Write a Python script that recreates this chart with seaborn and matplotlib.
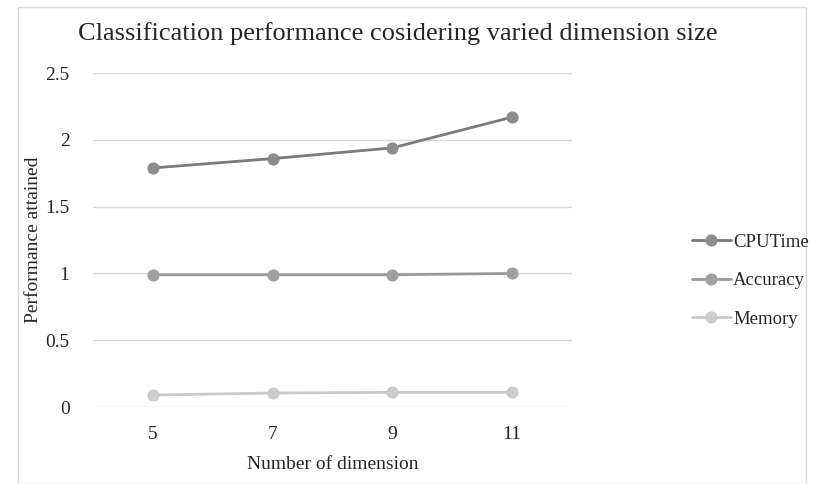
import numpy as np
import pandas as pd
import matplotlib
matplotlib.use("Agg")
import matplotlib.pyplot as plt
import seaborn as sns

dims = ["5", "7", "9", "11"]
cpu_time = [1.79, 1.86, 1.94, 2.17]
accuracy = [0.99, 0.99, 0.99, 1.00]
memory = [0.09, 0.105, 0.11, 0.11]

series = {"CPUTime": cpu_time, "Accuracy": accuracy, "Memory": memory}
colors = {"CPUTime": "#7a7a7a", "Accuracy": "#9a9a9a", "Memory": "#c9c9c9"}
mcolors = {"CPUTime": "#8c8c8c", "Accuracy": "#a0a0a0", "Memory": "#cccccc"}

df = pd.DataFrame([
    {"dim": d, "value": v, "series": name}
    for name, vals in series.items()
    for d, v in zip(dims, vals)
])

sns.set_style("white")
plt.rcParams["font.family"] = ["Liberation Serif", "DejaVu Serif"]

fig = plt.figure(figsize=(8.17, 4.84), dpi=100)
ax = fig.add_axes([0.114, 0.159, 0.586, 0.69])

for name in series:
    sub = df[df["series"] == name]
    sns.lineplot(data=sub, x="dim", y="value", ax=ax, color=colors[name],
                 lw=2, marker="o", markersize=8, markerfacecolor=mcolors[name],
                 markeredgecolor=mcolors[name], label=name, sort=False)

ax.set_ylim(0, 2.5)
ax.set_xlim(-0.5, 3.5)
ax.set_yticks([0, 0.5, 1, 1.5, 2, 2.5])
ax.set_yticklabels(["0", "0.5", "1", "1.5", "2", "2.5"])
ax.yaxis.grid(True, color="#d9d9d9", lw=1)
ax.set_axisbelow(True)
for s in ["top", "right", "left", "bottom"]:
    ax.spines[s].set_visible(False)
ax.tick_params(axis="both", length=0, labelsize=14, pad=14)
ax.tick_params(axis="y", pad=17)
ax.set_xlabel("Number of dimension", fontsize=14, labelpad=9)
ax.set_ylabel("Performance attained", fontsize=14, labelpad=2)
fig.suptitle("Classification performance cosidering varied dimension size",
             fontsize=19, x=0.487, y=0.955)

h, l = ax.get_legend_handles_labels()
ax.get_legend().remove()
fig.legend(h, l, loc="center left", bbox_to_anchor=(0.826, 0.42), frameon=False,
           fontsize=13.5, handlelength=2.1, handletextpad=0.1, labelspacing=1.15)

fig.patches.append(plt.Rectangle((0.022, 0.0), 0.965, 0.985, transform=fig.transFigure,
                                 fill=False, edgecolor="#d9d9d9", lw=1))
fig.savefig("out.png", dpi=100)
